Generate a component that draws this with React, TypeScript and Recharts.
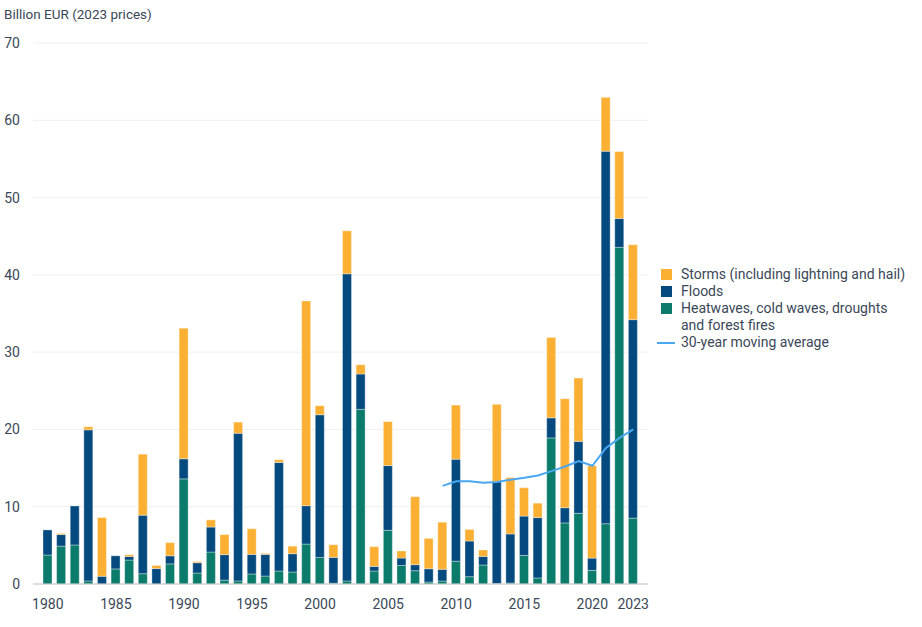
import React from "react";
import { ComposedChart, Bar, Line, XAxis, YAxis, CartesianGrid } from "recharts";

const years = [
  1980, 1981, 1982, 1983, 1984, 1985, 1986, 1987, 1988, 1989,
  1990, 1991, 1992, 1993, 1994, 1995, 1996, 1997, 1998, 1999,
  2000, 2001, 2002, 2003, 2004, 2005, 2006, 2007, 2008, 2009,
  2010, 2011, 2012, 2013, 2014, 2015, 2016, 2017, 2018, 2019,
  2020, 2021, 2022, 2023,
];

const heatwaves = [
  3.75, 4.9, 5.05, 0.4, 0, 1.95, 3.1, 1.33, 0, 2.6,
  13.6, 1.42, 4.14, 0.5, 0.4, 1.3, 1.03, 1.68, 1.55, 5.17,
  3.44, 0.1, 0.4, 22.6, 1.68, 6.95, 2.4, 1.72, 0.26, 0.39,
  2.95, 0.94, 2.46, 0.05, 0.13, 3.7, 0.78, 18.9, 7.9, 9.15,
  1.76, 7.8, 43.56, 8.53,
];

const floods = [
  3.25, 1.5, 5.05, 19.55, 1.0, 1.7, 0.47, 7.57, 2.0, 1.05,
  2.6, 1.33, 3.23, 3.3, 19.1, 2.53, 2.8, 14.05, 2.37, 4.96,
  18.46, 3.34, 39.74, 4.57, 0.6, 8.37, 0.96, 0.78, 1.72, 1.51,
  13.2, 4.62, 1.11, 13.2, 6.35, 5.09, 7.82, 2.6, 1.97, 9.3,
  1.59, 48.2, 3.74, 25.67,
];

const storms = [
  0, 0.15, 0, 0.4, 7.6, 0, 0.23, 7.9, 0.4, 1.7,
  16.9, 0.15, 0.93, 2.6, 1.45, 3.32, 0.13, 0.35, 0.98, 26.5,
  1.17, 1.64, 5.56, 1.2, 2.55, 5.7, 0.91, 8.8, 3.92, 6.1,
  7.0, 1.5, 0.83, 10.0, 7.3, 3.67, 1.86, 10.4, 14.1, 8.2,
  11.95, 6.97, 8.65, 9.7,
];

const movingAverage: (number | null)[] = [
  null, null, null, null, null, null, null, null, null, null,
  null, null, null, null, null, null, null, null, null, null,
  null, null, null, null, null, null, null, null, null, 12.7,
  13.3, 13.3, 13.1, 13.2, 13.5, 13.75, 14.05, 14.6, 15.2, 15.9,
  15.3, 17.6, 18.9, 20.0,
];

const xTickLabels = [1980, 1985, 1990, 1995, 2000, 2005, 2010, 2015, 2020, 2023];
const yTicks = [0, 10, 20, 30, 40, 50, 60, 70];

const yAxisTitle = "Billion EUR (2023 prices)";
const legendStorms = "Storms (including lightning and hail)";
const legendFloods = "Floods";
const legendHeat1 = "Heatwaves, cold waves, droughts";
const legendHeat2 = "and forest fires";
const legendAvg = "30-year moving average";

const C_STORM = "#fbb034";
const C_FLOOD = "#044a7e";
const C_HEAT = "#0b7b6b";
const C_AVG = "#4aa8f2";
const TEXT = "#3a4757";
const FONT = "Roboto, 'Noto Sans', sans-serif";

const data = years.map((y, i) => ({
  year: y,
  heat: heatwaves[i],
  flood: floods[i],
  storm: storms[i],
  avg: movingAverage[i],
}));

const LegendBox = () => {
  const row: React.CSSProperties = {
    display: "flex",
    alignItems: "center",
    height: 17,
    fontSize: 14,
    color: TEXT,
    fontFamily: FONT,
    whiteSpace: "nowrap",
  };
  const sq = (c: string): React.CSSProperties => ({
    width: 11,
    height: 11,
    background: c,
    marginLeft: 4,
    marginRight: 9,
    flex: "none",
  });
  return (
    <div style={{ position: "absolute", left: 657, top: 266, lineHeight: "17px" }}>
      <div style={row}>
        <span style={sq(C_STORM)} />
        <span>{legendStorms}</span>
      </div>
      <div style={row}>
        <span style={sq(C_FLOOD)} />
        <span>{legendFloods}</span>
      </div>
      <div style={row}>
        <span style={sq(C_HEAT)} />
        <span>{legendHeat1}</span>
      </div>
      <div style={{ ...row, paddingLeft: 24 }}>
        <span>{legendHeat2}</span>
      </div>
      <div style={row}>
        <span style={{ width: 18, height: 2, background: C_AVG, marginRight: 6, flex: "none" }} />
        <span>{legendAvg}</span>
      </div>
    </div>
  );
};

export default function App() {
  return (
    <div style={{ position: "absolute", left: 0, top: 0, width: 922, height: 627, background: "#fff" }}>
      <div
        style={{
          position: "absolute",
          left: 4,
          top: 6,
          fontSize: 13.5,
          color: TEXT,
          fontFamily: FONT,
          zIndex: 2,
        }}
      >
        {yAxisTitle}
      </div>
      <ComposedChart
        width={922}
        height={627}
        data={data}
        margin={{ top: 43, right: 274, bottom: 0, left: 0 }}
        barSize={9}
      >
        <CartesianGrid vertical={false} stroke="#efefef" />
        <XAxis
          dataKey="year"
          height={43}
          interval={0}
          tickLine={false}
          tickSize={0}
          tickMargin={15}
          axisLine={{ stroke: "#c4c4c4" }}
          padding={{ left: 8, right: 8 }}
          tick={{ fill: TEXT, fontSize: 14, fontFamily: FONT }}
          tickFormatter={(v: number) => (xTickLabels.includes(v) ? String(v) : "")}
        />
        <YAxis
          width={33}
          domain={[0, 70]}
          ticks={yTicks}
          axisLine={false}
          tickLine={false}
          tickSize={0}
          tickMargin={13}
          tick={{ fill: TEXT, fontSize: 14, fontFamily: FONT }}
        />
        <Bar dataKey="heat" stackId="a" fill={C_HEAT} stroke="rgba(255,255,255,0.35)" strokeWidth={1} isAnimationActive={false} />
        <Bar dataKey="flood" stackId="a" fill={C_FLOOD} stroke="rgba(255,255,255,0.35)" strokeWidth={1} isAnimationActive={false} />
        <Bar dataKey="storm" stackId="a" fill={C_STORM} stroke="rgba(255,255,255,0.35)" strokeWidth={1} isAnimationActive={false} />
        <Line
          dataKey="avg"
          type="linear"
          stroke={C_AVG}
          strokeWidth={2}
          dot={false}
          activeDot={false}
          isAnimationActive={false}
        />
      </ComposedChart>
      <LegendBox />
    </div>
  );
}
